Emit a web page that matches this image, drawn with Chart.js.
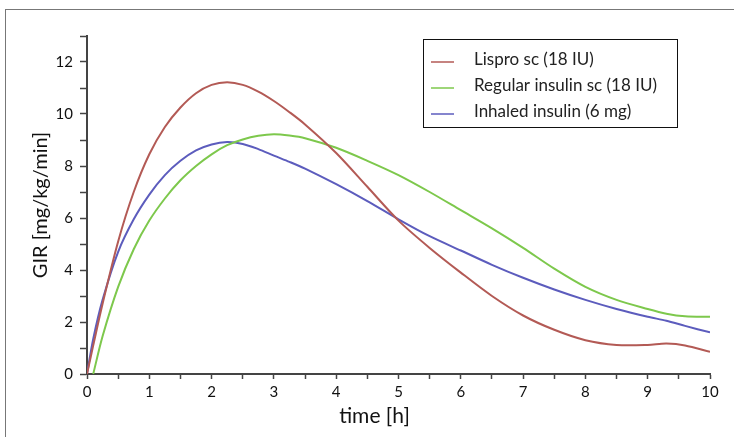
<!DOCTYPE html>
<html>
<head>
<meta charset="utf-8">
<script src="https://cdn.jsdelivr.net/npm/chart.js@4"></script>
<style>
  html, body { margin: 0; padding: 0; background: #fff; }
  #wrap { position: relative; width: 734px; height: 437px; overflow: hidden; }
  #frame { position: absolute; left: 5px; top: 9px; width: 800px; height: 500px;
           border-left: 1px solid #777; border-top: 1px solid #777; }
  canvas { position: absolute; left: 0; top: 0; }
</style>
</head>
<body>
<div id="wrap">
  <div id="frame"></div>
  <canvas id="chart" width="734" height="437"></canvas>
</div>
<script>
// time points (h)
const hours = [0, 0.1, 0.25, 0.5, 0.75, 1, 1.25, 1.5, 1.75, 2, 2.25, 2.5, 2.75, 3, 3.25, 3.5, 4, 4.5, 5, 5.5, 6, 6.5, 7, 7.5, 8, 8.5, 9, 9.3, 9.6, 10];

// GIR [mg/kg/min]
const lispro  = [0, 1.1, 2.7, 5.1, 7.0, 8.45, 9.5, 10.25, 10.8, 11.12, 11.22, 11.12, 10.86, 10.5, 10.07, 9.6, 8.5, 7.2, 5.9, 4.85, 3.9, 3.0, 2.25, 1.7, 1.3, 1.12, 1.12, 1.17, 1.1, 0.85];
const regular = [null, 0, 1.45, 3.35, 4.8, 5.9, 6.75, 7.45, 8.0, 8.45, 8.8, 9.02, 9.16, 9.22, 9.17, 9.07, 8.7, 8.2, 7.65, 7.0, 6.3, 5.6, 4.85, 4.05, 3.35, 2.85, 2.5, 2.32, 2.22, 2.2];
const inhaled = [0, 1.35, 2.85, 4.7, 5.95, 6.9, 7.65, 8.2, 8.6, 8.83, 8.92, 8.85, 8.65, 8.4, 8.16, 7.9, 7.3, 6.65, 5.95, 5.3, 4.75, 4.2, 3.7, 3.25, 2.85, 2.5, 2.2, 2.05, 1.85, 1.6];

const seriesNames = ['Lispro sc (18 IU)', 'Regular insulin sc (18 IU)', 'Inhaled insulin (6 mg)'];
const seriesColors = ['#b35a55', '#7dc84c', '#5c5cbd'];
const xTitle = 'time [h]';

const FONT = 'Lato, "Noto Sans", sans-serif';
const AXIS = '#444';

function pts(vals) {
  return hours.map((h, i) => ({ x: h, y: vals[i] }));
}

// boxed legend inside the plot + x title (sits a bit left of centre in the original)
const extras = {
  id: 'extras',
  afterDraw(chart) {
    const ctx = chart.ctx, a = chart.chartArea;
    ctx.save();
    // legend
    const x0 = a.right - 33, y0 = a.top + 3;
    const w = 254, h = 88;
    ctx.strokeStyle = '#111';
    ctx.lineWidth = 1;
    ctx.strokeRect(x0 - w + 0.5, y0 + 0.5, w, h);
    ctx.font = '17px ' + FONT;
    ctx.textBaseline = 'middle';
    chart.data.datasets.forEach((ds, i) => {
      const cy = y0 + 21 + i * 26;
      ctx.strokeStyle = ds.borderColor;
      ctx.globalAlpha = 0.75;
      ctx.lineWidth = 2;
      ctx.beginPath();
      ctx.moveTo(x0 - w + 8, cy + 2);
      ctx.lineTo(x0 - w + 31, cy + 2);
      ctx.stroke();
      ctx.globalAlpha = 1;
      ctx.fillStyle = '#222';
      ctx.fillText(ds.label, x0 - w + 51, cy);
    });
    // x axis title
    ctx.font = '21px ' + FONT;
    ctx.textAlign = 'center';
    ctx.fillStyle = '#111';
    ctx.fillText(xTitle, (a.left + a.right) / 2 - 24, a.bottom + 42);
    ctx.restore();
  }
};

new Chart(document.getElementById('chart'), {
  type: 'line',
  data: {
    datasets: [lispro, regular, inhaled].map((vals, i) => ({
      label: seriesNames[i],
      data: pts(vals),
      borderColor: seriesColors[i],
      borderWidth: 2,
      pointRadius: 0,
      fill: false,
      tension: 0.3
    }))
  },
  options: {
    responsive: false,
    animation: false,
    layout: { padding: { left: 29, right: 24, top: 36, bottom: 13 } },
    plugins: { legend: { display: false }, tooltip: { enabled: false } },
    scales: {
      x: {
        type: 'linear', min: 0, max: 10,
        afterFit: s => { s.height = 50; },
        border: { color: AXIS, width: 2 },
        grid: { drawOnChartArea: false, tickLength: 5, tickColor: AXIS, tickWidth: 1.5 },
        ticks: {
          stepSize: 0.5, autoSkip: false, maxRotation: 0, padding: 4,
          color: '#111', font: { family: FONT, size: 15 },
          callback: v => Number.isInteger(v) ? v : ''
        }
      },
      y: {
        min: 0, max: 13,
        afterFit: s => { s.width = 58; },
        border: { color: AXIS, width: 2 },
        grid: { drawOnChartArea: false, tickLength: 7, tickColor: AXIS, tickWidth: 1.5 },
        ticks: {
          stepSize: 1, autoSkip: false, padding: 7,
          color: '#111', font: { family: FONT, size: 15 },
          callback: v => (v % 2 === 0 && v <= 12) ? v : ''
        },
        title: { display: true, text: 'GIR [mg/kg/min]', color: '#111', padding: 0, font: { family: FONT, size: 20 } }
      }
    }
  },
  plugins: [extras]
});
</script>
</body>
</html>
